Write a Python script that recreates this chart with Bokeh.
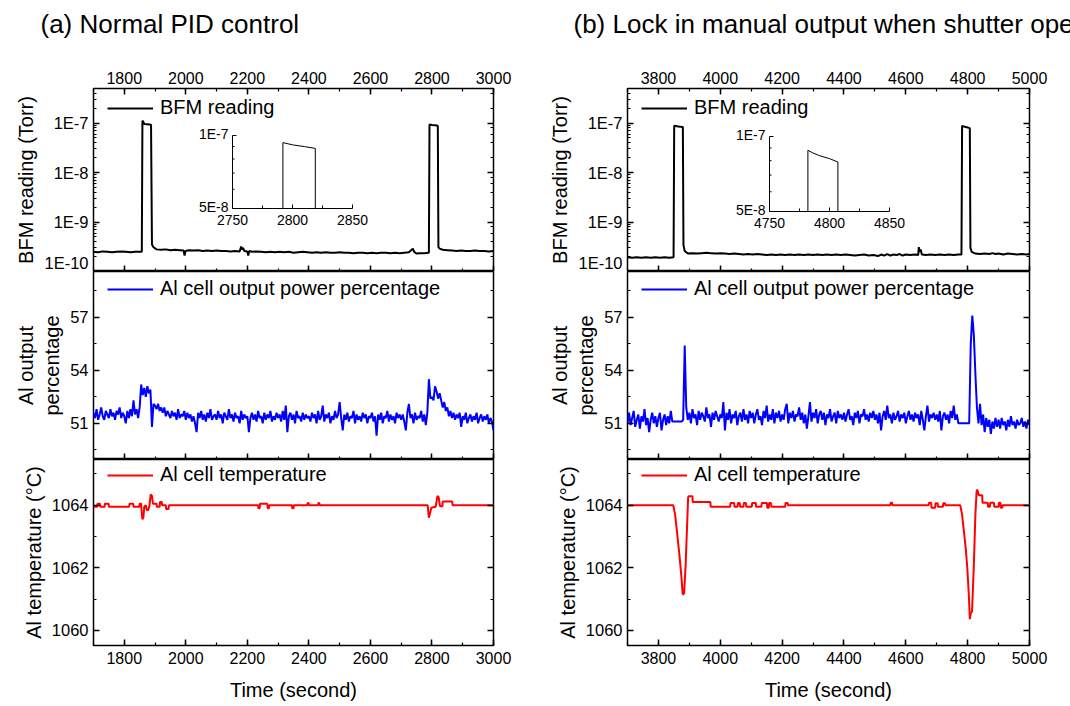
from bokeh.plotting import figure
from bokeh.models import (Range1d, LinearAxis, LogAxis, SingleIntervalTicker, LogScale,
                          CustomJSTickFormatter, GridBox, Legend, LegendItem, Title)
from bokeh.core.properties import value
from bokeh.embed import file_html
from bokeh.resources import INLINE
import math

FONT = "Liberation Sans"

# ---------------------------------------------------------------- data
titles = ["(a) Normal PID control", "(b) Lock in manual output when shutter opens"]
legend_labels = ["BFM reading", "Al cell output power percentage", "Al cell temperature"]
y_labels = ["BFM reading (Torr)", "Al output\npercentage", "Al temperature (\u00b0C)"]
x_label = "Time (second)"

bfm_tick_vals = [1e-10, 1e-9, 1e-8, 1e-7]
bfm_tick_labels = ["1E-10", "1E-9", "1E-8", "1E-7"]
inset_y_ticks = [5e-8, 1e-7]
inset_y_labels = ["5E-8", "1E-7"]
inset_y_minor = [6e-8, 7e-8, 8e-8, 9e-8]
inset_a_x_ticks = [2750, 2800, 2850]
inset_a_x_labels = ["2750", "2800", "2850"]
inset_a_x_minor = [2775, 2825]
inset_b_x_ticks = [4750, 4800, 4850]
inset_b_x_labels = ["4750", "4800", "4850"]
inset_b_x_minor = [4775, 4825]

# BFM reading, column (a)
bfm_a_t = [1700, 1715, 1730, 1745, 1760, 1775, 1790, 1805, 1820, 1835, 1850, 1857, 1859, 1862, 1865,
           1875, 1887, 1890, 1895, 1905, 1920, 1935, 1950, 1965, 1980, 1993, 1996, 1999, 2010, 2025,
           2040, 2055, 2070, 2085, 2100, 2115, 2130, 2145, 2160, 2175, 2180, 2183, 2186, 2190, 2200,
           2203, 2206, 2215, 2230, 2245, 2260, 2275, 2290, 2305, 2320, 2335, 2350, 2365, 2380, 2395,
           2410, 2425, 2440, 2455, 2470, 2485, 2500, 2515, 2530, 2545, 2560, 2575, 2590, 2605, 2620,
           2635, 2650, 2665, 2680, 2695, 2710, 2725, 2738, 2742, 2750, 2760, 2775, 2790, 2792, 2800,
           2810, 2819, 2821, 2825, 2835, 2850, 2865, 2880, 2895, 2910, 2925, 2940, 2955, 2970, 2985,
           3000]
bfm_a_v = [2.5e-10, 2.45e-10, 2.55e-10, 2.5e-10, 2.45e-10, 2.5e-10, 2.55e-10, 2.5e-10, 2.45e-10, 2.5e-10,
           2.5e-10, 2.5e-10, 1.12e-7, 1.05e-7, 9.6e-8, 9.5e-8, 9.3e-8, 3.5e-10, 3.1e-10, 2.8e-10,
           2.75e-10, 2.8e-10, 2.7e-10, 2.75e-10, 2.7e-10, 2.65e-10, 2.1e-10, 2.6e-10, 2.7e-10, 2.65e-10,
           2.7e-10, 2.6e-10, 2.65e-10, 2.6e-10, 2.65e-10, 2.6e-10, 2.6e-10, 2.55e-10, 2.6e-10, 2.55e-10,
           3.2e-10, 2.8e-10, 3.0e-10, 2.6e-10, 2.55e-10, 2.1e-10, 2.6e-10, 2.5e-10, 2.55e-10, 2.5e-10,
           2.45e-10, 2.5e-10, 2.45e-10, 2.5e-10, 2.45e-10, 2.5e-10, 2.4e-10, 2.45e-10, 2.5e-10, 2.45e-10,
           2.4e-10, 2.45e-10, 2.4e-10, 2.45e-10, 2.4e-10, 2.4e-10, 2.45e-10, 2.4e-10, 2.4e-10, 2.35e-10,
           2.4e-10, 2.4e-10, 2.35e-10, 2.4e-10, 2.35e-10, 2.4e-10, 2.4e-10, 2.35e-10, 2.4e-10, 2.35e-10,
           2.4e-10, 2.45e-10, 2.9e-10, 2.5e-10, 2.3e-10, 2.35e-10, 2.35e-10, 2.4e-10, 9.35e-8, 9.15e-8,
           9.0e-8, 8.85e-8, 3.1e-10, 2.9e-10, 2.75e-10, 2.7e-10, 2.65e-10, 2.6e-10, 2.65e-10, 2.6e-10,
           2.6e-10, 2.65e-10, 2.6e-10, 2.6e-10, 2.55e-10, 2.6e-10]

# BFM reading, column (b)
bfm_b_t = [3700, 3715, 3730, 3745, 3760, 3775, 3790, 3805, 3820, 3835, 3849, 3851, 3860, 3870, 3879,
           3881, 3885, 3895, 3910, 3925, 3940, 3955, 3970, 3985, 4000, 4015, 4030, 4045, 4060, 4075,
           4090, 4105, 4120, 4135, 4150, 4165, 4180, 4195, 4210, 4225, 4240, 4255, 4270, 4285, 4300,
           4315, 4330, 4345, 4360, 4375, 4390, 4405, 4420, 4435, 4450, 4465, 4480, 4495, 4510, 4520,
           4530, 4540, 4550, 4560, 4570, 4580, 4590, 4600, 4615, 4630, 4640, 4642, 4645, 4648, 4652,
           4665, 4680, 4695, 4710, 4725, 4740, 4755, 4770, 4780, 4782, 4786, 4791, 4800, 4807, 4809,
           4813, 4825, 4840, 4855, 4870, 4880, 4890, 4900, 4915, 4930, 4945, 4960, 4975, 4990, 5000]
bfm_b_v = [1.95e-10, 1.9e-10, 1.95e-10, 1.9e-10, 1.95e-10, 1.9e-10, 1.95e-10, 1.9e-10, 1.95e-10, 1.9e-10,
           1.95e-10, 8.8e-8, 8.6e-8, 8.45e-8, 8.3e-8, 3.4e-10, 2.6e-10, 2.3e-10, 2.35e-10, 2.3e-10,
           2.35e-10, 2.4e-10, 2.35e-10, 2.3e-10, 2.35e-10, 2.3e-10, 2.25e-10, 2.3e-10, 2.25e-10, 2.2e-10,
           2.25e-10, 2.2e-10, 2.25e-10, 2.2e-10, 2.15e-10, 2.2e-10, 2.15e-10, 2.2e-10, 2.15e-10, 2.2e-10,
           2.15e-10, 2.2e-10, 2.15e-10, 2.2e-10, 2.15e-10, 2.2e-10, 2.15e-10, 2.2e-10, 2.15e-10, 2.2e-10,
           2.15e-10, 2.2e-10, 2.15e-10, 2.1e-10, 2.15e-10, 2.2e-10, 2.1e-10, 2.15e-10, 2.05e-10, 2.2e-10,
           2.1e-10, 2.25e-10, 2.1e-10, 2.2e-10, 2.15e-10, 2.25e-10, 2.1e-10, 2.2e-10, 2.15e-10, 2.2e-10,
           2.15e-10, 3.1e-10, 2.5e-10, 2.8e-10, 2.2e-10, 2.15e-10, 2.2e-10, 2.15e-10, 2.2e-10, 2.15e-10,
           2.2e-10, 2.15e-10, 2.2e-10, 2.2e-10, 8.8e-8, 8.6e-8, 8.4e-8, 8.15e-8, 7.9e-8, 3.0e-10,
           2.5e-10, 2.3e-10, 2.25e-10, 2.3e-10, 2.25e-10, 2.35e-10, 2.25e-10, 2.3e-10, 2.2e-10, 2.3e-10,
           2.25e-10, 2.2e-10, 2.25e-10, 2.2e-10, 2.25e-10]

# Al cell output power percentage, sampled every 5 s
blue_a_t = list(range(1700, 3001, 5))
blue_a_v = [
    51.6, 51.3, 51.8, 51.2, 51.5, 51.9, 51.4, 51.2, 51.7, 51.5, 51.3, 51.8, 51.4, 51.6, 51.2, 51.7, 51.5, 51.9, 51.3, 51.6,
    51.4, 51.0, 51.7, 51.3, 51.8, 51.4, 52.3, 51.5, 51.8, 51.3, 51.9, 53.2, 52.6, 53.0, 52.5, 53.1, 52.7, 52.9, 50.8, 52.1,
    52.0, 51.8, 52.1, 51.7, 51.9, 51.6, 51.9, 51.4, 51.7, 51.5, 51.3, 51.7, 51.4, 51.6, 51.2, 51.8, 51.3, 51.5, 51.4, 51.7,
    51.2, 51.6, 51.3, 51.5, 51.1, 51.4, 51.0, 50.5, 51.6, 51.3, 51.7, 51.2, 51.5, 51.1, 51.6, 51.3, 51.8, 51.2, 51.4, 51.5,
    51.2, 51.7, 51.3, 51.5, 51.0, 51.6, 51.4, 51.2, 51.8, 51.3, 51.5, 51.1, 51.6, 51.3, 51.4, 51.0, 51.7, 51.2, 51.5, 51.3,
    51.4, 50.5, 51.3, 51.6, 51.2, 51.5, 51.1, 51.7, 51.3, 51.4, 51.0, 51.6, 51.2, 51.5, 51.3, 51.7, 51.1, 51.4, 51.2, 51.6,
    51.3, 51.5, 51.1, 51.7, 51.2, 52.0, 50.5, 51.4, 51.6, 51.2, 51.5, 51.0, 51.7, 51.3, 51.4, 51.1, 51.6, 51.2, 51.5, 51.3,
    51.4, 51.1, 51.6, 51.3, 51.5, 51.0, 51.7, 51.2, 51.4, 52.0, 51.1, 51.5, 51.3, 51.6, 51.0, 51.4, 51.2, 51.7, 51.3, 51.5,
    52.2, 51.3, 50.6, 51.5, 51.2, 51.6, 51.1, 51.4, 51.3, 51.7, 51.0, 51.5, 51.2, 51.4, 51.1, 51.6, 51.3, 51.5, 51.0, 51.4,
    51.3, 51.6, 51.1, 51.4, 50.3, 51.5, 51.2, 51.6, 51.0, 51.4, 51.3, 51.7, 51.1, 51.5, 51.2, 51.4, 51.0, 51.6, 51.3, 51.5,
    51.2, 51.5, 51.1, 50.6, 51.6, 52.1, 51.3, 51.5, 51.0, 51.6, 51.2, 51.4, 51.3, 51.7, 51.1, 51.5, 50.9, 51.6, 53.5, 52.4,
    52.5, 52.3, 53.1, 52.8, 52.4, 52.7, 52.3, 51.9, 52.2, 51.7, 51.9, 51.4, 51.7, 51.3, 51.6, 51.2, 51.5, 51.3, 51.6, 50.8,
    51.4, 51.2, 51.6, 51.0, 51.3, 51.5, 51.1, 51.4, 51.2, 51.6, 51.0, 51.3, 51.5, 51.1, 51.4, 51.2, 51.5, 51.0, 51.3, 51.1, 50.6]

blue_b_t = list(range(3700, 5001, 5))
blue_b_v = [
    51.0, 51.6, 50.9, 51.3, 51.7, 50.8, 51.2, 51.5, 50.7, 51.4, 51.1, 51.8, 50.9, 51.3, 50.5, 51.2, 51.6, 51.0, 51.4, 50.8,
    51.3, 51.6, 50.6, 51.2, 51.5, 50.9, 51.4, 51.0, 51.7, 51.1, 51.1, 51.1, 51.1, 51.1, 51.1, 51.1, 51.2, 55.4, 51.9, 51.2,
    51.6, 51.0, 51.8, 51.3, 51.5, 50.9, 51.7, 51.2, 51.6, 51.4, 51.1, 51.9, 51.3, 51.5, 50.8, 51.6, 51.2, 51.7, 51.4, 51.1,
    51.5, 51.3, 52.2, 50.6, 51.6, 51.2, 51.8, 51.0, 51.5, 51.3, 51.7, 50.9, 51.4, 51.6, 51.1, 51.8, 51.2, 51.5, 51.0, 51.7,
    51.3, 51.6, 51.0, 51.5, 51.8, 51.2, 51.4, 50.9, 51.7, 51.3, 52.0, 51.1, 51.5, 51.2, 51.8, 51.0, 51.6, 51.3, 51.7, 51.1,
    51.5, 51.2, 51.8, 52.1, 51.0, 51.6, 51.3, 51.7, 51.1, 51.5, 51.4, 51.9, 51.2, 51.6, 51.0, 51.5, 50.7, 51.4, 52.2, 51.1,
    51.6, 51.3, 51.8, 51.0, 51.5, 51.7, 51.2, 51.6, 50.9, 51.5, 51.3, 51.8, 51.1, 51.4, 51.6, 51.0, 51.7, 51.3, 51.5, 51.2,
    51.6, 51.1, 51.5, 51.8, 51.2, 51.4, 50.9, 51.6, 51.3, 51.7, 51.0, 51.5, 51.4, 51.8, 51.2, 51.5, 51.1, 51.6, 51.3, 51.7,
    51.2, 51.5, 51.0, 51.6, 50.6, 51.4, 51.7, 51.2, 52.0, 51.3, 51.5, 51.0, 51.6, 51.2, 51.4, 51.7, 51.1, 51.5, 51.3, 51.6,
    51.0, 51.4, 51.7, 51.2, 51.5, 51.1, 51.6, 51.3, 51.5, 50.9, 51.7, 51.2, 50.6, 51.4, 52.0, 51.1, 51.5, 51.3, 51.6, 51.2,
    51.5, 51.1, 51.7, 50.6, 51.4, 51.6, 51.2, 51.5, 51.0, 51.7, 51.3, 52.0, 51.2, 51.5, 51.0, 51.0, 51.0, 51.0, 51.0, 51.0,
    51.0, 51.0, 55.5, 57.1, 56.0, 53.8, 51.9, 51.0, 52.1, 50.9, 51.5, 50.5, 51.3, 50.8, 51.2, 50.4, 51.1, 50.7, 51.3, 50.8,
    51.2, 50.7, 51.3, 50.9, 51.1, 50.6, 51.2, 50.8, 51.4, 50.9, 51.1, 50.7, 51.2, 50.9, 51.0, 51.3, 50.8, 51.1, 50.7, 51.2, 50.9]

# Al cell temperature
temp_a_t = [1700, 1712, 1713, 1721, 1722, 1736, 1737, 1749, 1750, 1816, 1817, 1829, 1830, 1849, 1850,
            1855, 1856, 1859, 1862, 1865, 1870, 1873, 1878, 1882, 1886, 1890, 1893, 1905, 1906, 1915,
            1916, 1922, 1923, 1935, 1936, 1944, 1945, 2235, 2236, 2240, 2241, 2265, 2266, 2270, 2271,
            2345, 2346, 2350, 2351, 2395, 2396, 2399, 2400, 2430, 2431, 2434, 2435, 2786, 2790, 2794,
            2798, 2812, 2818, 2822, 2826, 2834, 2835, 2866, 2867, 3000]
temp_a_v = [1063.95, 1063.95, 1064.05, 1064.05, 1063.95, 1063.95, 1064.05, 1064.05, 1063.95, 1063.95,
            1064.05, 1064.05, 1063.95, 1063.95, 1064.05, 1064.05, 1063.85, 1063.55, 1063.6, 1063.95,
            1064.0, 1063.85, 1063.85, 1064.0, 1064.35, 1064.3, 1064.05, 1064.05, 1063.95, 1063.95,
            1064.1, 1064.1, 1064.0, 1064.0, 1063.88, 1063.88, 1064.0, 1064.0, 1063.9, 1063.9,
            1064.05, 1064.05, 1063.9, 1063.9, 1064.0, 1064.0, 1063.9, 1063.9, 1064.0, 1064.0,
            1064.07, 1064.07, 1064.0, 1064.0, 1064.07, 1064.07, 1064.0, 1064.0, 1063.6, 1063.75,
            1063.92, 1063.95, 1064.3, 1064.25, 1063.97, 1063.97, 1064.12, 1064.12, 1064.0, 1064.0]

temp_b_t = [3700, 3848, 3854, 3860, 3868, 3874, 3878, 3880, 3883, 3888, 3892, 3896, 3898, 3910, 3911,
            3968, 3969, 4032, 4033, 4045, 4046, 4056, 4057, 4063, 4064, 4075, 4076, 4083, 4084, 4102,
            4103, 4115, 4116, 4133, 4134, 4151, 4152, 4157, 4158, 4164, 4165, 4210, 4211, 4218, 4219,
            4550, 4551, 4556, 4557, 4674, 4675, 4682, 4683, 4695, 4696, 4703, 4704, 4720, 4721, 4727,
            4728, 4776, 4782, 4788, 4794, 4799, 4804, 4807, 4810, 4814, 4817, 4820, 4825, 4829, 4831,
            4836, 4847, 4848, 4865, 4866, 4872, 4873, 4885, 4886, 4900, 4901, 4906, 4907, 4912, 4913,
            5000]
temp_b_v = [1064.0, 1064.0, 1063.7, 1063.16, 1062.4, 1061.76, 1061.2, 1061.14, 1061.2, 1062.08,
            1063.16, 1064.24, 1064.29, 1064.29, 1064.1, 1064.1, 1063.95, 1063.95, 1064.07, 1064.07,
            1063.95, 1063.95, 1064.07, 1064.07, 1063.95, 1063.95, 1064.07, 1064.07, 1063.95, 1063.95,
            1064.07, 1064.07, 1063.95, 1063.95, 1064.07, 1064.07, 1063.92, 1063.92, 1064.07, 1064.07,
            1063.95, 1063.95, 1064.07, 1064.07, 1064.0, 1064.0, 1064.08, 1064.08, 1064.0, 1064.0,
            1064.08, 1064.08, 1063.92, 1063.92, 1064.06, 1064.06, 1063.95, 1063.95, 1064.06, 1064.06,
            1064.0, 1064.0, 1063.7, 1063.16, 1062.6, 1061.97, 1061.1, 1060.36, 1060.55, 1060.6,
            1061.3, 1062.08, 1063.7, 1064.45, 1064.5, 1064.32, 1064.32, 1064.08, 1064.08, 1063.95,
            1063.95, 1064.08, 1064.08, 1063.95, 1063.95, 1064.08, 1064.08, 1063.92, 1063.92, 1064.0,
            1064.0]

x_ranges = [(1700, 3000), (3700, 5000)]
bfm_range = (1e-10, 5e-7)
pct_range = (48.95, 59.6)
temp_range = (1059.52, 1065.46)
inset_y_range = (5e-8, 1e-7)

# ---------------------------------------------------------------- layout constants (pixels)
H_TOP, H_MID, H_BOT = 183, 188, 186
TOP_BORDER, BOT_BORDER = 88, 60


def style_axis(ax, show=True, size="16px"):
    ax.axis_line_color = None
    ax.major_tick_in = 6
    ax.major_tick_out = 0
    ax.minor_tick_in = 3
    ax.minor_tick_out = 0
    ax.major_tick_line_color = "black"
    ax.minor_tick_line_color = "black"
    ax.major_tick_line_width = 1.5
    ax.minor_tick_line_width = 1.2
    ax.major_label_text_font = FONT
    ax.major_label_text_font_size = size
    ax.major_label_text_color = "black"
    ax.major_label_standoff = 5
    ax.axis_label_text_font = FONT
    ax.axis_label_text_font_size = "20px"
    ax.axis_label_text_font_style = "normal"
    ax.axis_label_text_color = "black"
    ax.axis_label_standoff = 4
    if not show:
        ax.formatter = CustomJSTickFormatter(code="return '';")
        ax.major_label_text_font_size = "0px"
        ax.major_label_standoff = 0
        ax.major_label_text_color = None


def base_fig(x_rng, y_rng, fw, fh, log, left, right, top, bottom):
    p = figure(x_range=x_rng, y_range=y_rng, y_axis_type="log" if log else "linear",
               frame_width=fw, frame_height=fh, min_border=0,
               min_border_left=left, min_border_right=right,
               min_border_top=top, min_border_bottom=bottom,
               toolbar_location=None, output_backend="svg", title=None)
    p.grid.visible = False
    p.outline_line_color = "black"
    p.outline_line_width = 1.5
    p.background_fill_color = "white"
    p.border_fill_color = "white"
    return p


def add_legend(p, renderer, label, fh, dy):
    leg = Legend(items=[LegendItem(label=label, renderers=[renderer])],
                 location=(14, fh - dy), padding=0, margin=0,
                 border_line_color=None, background_fill_alpha=0,
                 label_text_font=FONT, label_text_font_size="20px", label_text_color="black",
                 glyph_width=46, glyph_height=20, label_height=20, label_standoff=7)
    p.add_layout(leg)


def add_inset(p, fw, fh, px_left, px_top, w, h, x0, x1, xticks, xlabels, xminor, t, v):
    """Inset drawn in its own (extra) coordinate system, occupying a w x h pixel box of the frame."""
    ux = (x1 - x0) / w
    x_start = x0 - px_left * ux
    x_end = x1 + (fw - px_left - w) * ux
    ly0, ly1 = math.log10(inset_y_range[0]), math.log10(inset_y_range[1])
    uy = (ly1 - ly0) / h
    py_bottom = fh - px_top - h
    y_start = 10 ** (ly0 - py_bottom * uy)
    y_end = 10 ** (ly1 + px_top * uy)
    p.extra_x_ranges = {"ix": Range1d(x_start, x_end)}
    p.extra_y_ranges = {"iy": Range1d(y_start, y_end)}
    p.extra_y_scales = {"iy": LogScale()}
    kw = dict(x_range_name="ix", y_range_name="iy")
    y0, y1 = inset_y_range
    # axes lines
    p.segment(x0=[x0, x0], y0=[y0, y0], x1=[x0, x1], y1=[y1, y0],
              line_color="black", line_width=1, **kw)
    # ticks (inward)
    p.ray(x=[x0] * len(inset_y_ticks), y=inset_y_ticks, length=4, length_units="screen",
          angle=0, line_color="black", line_width=1, **kw)
    p.ray(x=[x0] * len(inset_y_minor), y=inset_y_minor, length=2, length_units="screen",
          angle=0, line_color="black", line_width=1, **kw)
    p.ray(x=xticks, y=[y0] * len(xticks), length=4, length_units="screen",
          angle=math.pi / 2, line_color="black", line_width=1, **kw)
    p.ray(x=xminor, y=[y0] * len(xminor), length=3, length_units="screen",
          angle=math.pi / 2, line_color="black", line_width=1, **kw)
    # tick labels
    p.text(x=[x0] * len(inset_y_ticks), y=inset_y_ticks, text=inset_y_labels,
           x_offset=-4, y_offset=-2, text_align="right", text_baseline="middle",
           text_font=value(FONT), text_font_size="14px", text_color="black", **kw)
    p.text(x=xticks, y=[y0] * len(xticks), text=xlabels, y_offset=6,
           text_align="center", text_baseline="top",
           text_font=value(FONT), text_font_size="14px", text_color="black", **kw)
    # the data inside the inset window
    sel = [(ti, vi) for ti, vi in zip(t, v) if x0 <= ti <= x1 and vi >= y0]
    xs = [sel[0][0]] + [s[0] for s in sel] + [sel[-1][0]]
    ys = [y0] + [s[1] for s in sel] + [y0]
    p.line(xs, ys, line_color="black", line_width=1, **kw)


def make_column(idx, fw, left, right, bfm_t, bfm_v, blue_t, blue_v, temp_t, temp_v, title_dx, inset):
    x_rng = Range1d(*x_ranges[idx])
    x_ticker = SingleIntervalTicker(interval=200, num_minor_ticks=2)
    log_fmt = CustomJSTickFormatter(args=dict(vals=bfm_tick_vals, labs=bfm_tick_labels), code="""
        for (let i = 0; i < vals.length; i++) {
            if (Math.abs(Math.log10(tick) - Math.log10(vals[i])) < 1e-6) return labs[i];
        }
        return '';
    """)

    # ---- top: BFM reading
    top = base_fig(x_rng, Range1d(*bfm_range), fw, H_TOP, True, left, right, TOP_BORDER, 0)
    r = top.line(bfm_t, bfm_v, line_color="black", line_width=2)
    add_legend(top, r, legend_labels[0], H_TOP, 31)
    bx = top.xaxis[0]
    bx.ticker = x_ticker
    style_axis(bx, show=False)
    ax_above = LinearAxis(ticker=x_ticker)
    style_axis(ax_above, show=True)
    top.add_layout(ax_above, "above")
    top.add_layout(Title(text=" ", text_font_size="1px", standoff=17), "above")
    top.add_layout(Title(text=titles[idx], align="left", offset=title_dx, text_font=FONT,
                         text_font_size="26px", text_font_style="normal", text_color="black",
                         vertical_align="top", standoff=16), "above")
    ly = top.yaxis[0]
    style_axis(ly, show=True, size="16.5px")
    ly.formatter = log_fmt
    ly.axis_label = y_labels[0]
    ry = LogAxis()
    style_axis(ry, show=False)
    top.add_layout(ry, "right")
    add_inset(top, fw, H_TOP, *inset, bfm_t, bfm_v)

    # ---- middle: output percentage
    mid = base_fig(x_rng, Range1d(*pct_range), fw, H_MID, False, left, right, 0, 0)
    r = mid.line(blue_t, blue_v, line_color="#0000ff", line_width=2)
    add_legend(mid, r, legend_labels[1], H_MID, 29)
    mx = mid.xaxis[0]
    mx.ticker = x_ticker
    style_axis(mx, show=False)
    y_tick_mid = SingleIntervalTicker(interval=3, num_minor_ticks=2)
    my = mid.yaxis[0]
    my.ticker = y_tick_mid
    style_axis(my, show=True, size="16.5px")
    my.axis_label = y_labels[1]
    mry = LinearAxis(ticker=y_tick_mid)
    style_axis(mry, show=False)
    mid.add_layout(mry, "right")

    # ---- bottom: temperature
    bot = base_fig(x_rng, Range1d(*temp_range), fw, H_BOT, False, left, right, 0, BOT_BORDER)
    r = bot.line(temp_t, temp_v, line_color="#ff0000", line_width=2)
    add_legend(bot, r, legend_labels[2], H_BOT, 27)
    tx = bot.xaxis[0]
    tx.ticker = x_ticker
    style_axis(tx, show=True)
    tx.major_label_standoff = 6
    tx.axis_label = x_label
    tx.axis_label_standoff = 12
    y_tick_bot = SingleIntervalTicker(interval=2, num_minor_ticks=2)
    ty = bot.yaxis[0]
    ty.ticker = y_tick_bot
    style_axis(ty, show=True, size="16.5px")
    ty.axis_label = y_labels[2]
    rax = LinearAxis(ticker=y_tick_bot)
    style_axis(rax, show=False)
    bot.add_layout(rax, "right")
    return top, mid, bot


inset_a = (139, 47, 120, 73, 2750, 2850, inset_a_x_ticks, inset_a_x_labels, inset_a_x_minor)
inset_b = (142, 48, 120, 75, 4750, 4850, inset_b_x_ticks, inset_b_x_labels, inset_b_x_minor)

top_a, mid_a, bot_a = make_column(0, 400, 93, 24, bfm_a_t, bfm_a_v, blue_a_t, blue_a_v,
                                  temp_a_t, temp_a_v, -53, inset_a)
top_b, mid_b, bot_b = make_column(1, 402, 110, 41, bfm_b_t, bfm_b_v, blue_b_t, blue_b_v,
                                  temp_b_t, temp_b_v, -54, inset_b)

grid = GridBox(children=[(top_a, 0, 0), (mid_a, 1, 0), (bot_a, 2, 0),
                         (top_b, 0, 1), (mid_b, 1, 1), (bot_b, 2, 1)], spacing=0)

open("out.html", "w").write(file_html(grid, INLINE))
